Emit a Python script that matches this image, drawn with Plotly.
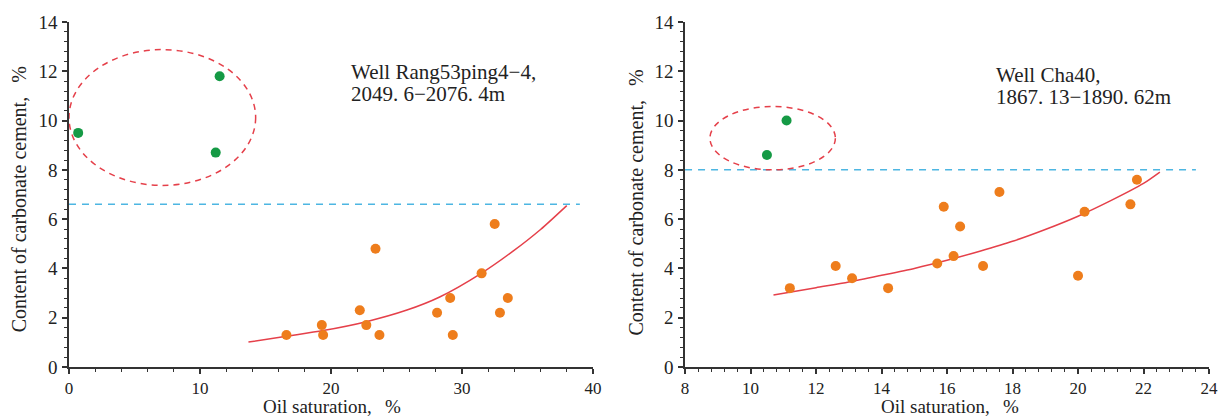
import plotly.graph_objects as go

# ---- Well Rang53ping4-4 (left panel) ----
rang_oil_sat = [16.6, 19.3, 19.4, 22.2, 22.7, 23.4, 23.7, 28.1, 29.1, 29.3, 31.5, 32.5, 32.9, 33.5]
rang_carbonate = [1.3, 1.7, 1.3, 2.3, 1.7, 4.8, 1.3, 2.2, 2.8, 1.3, 3.8, 5.8, 2.2, 2.8]
rang_outlier_sat = [0.7, 11.5, 11.2]
rang_outlier_carb = [9.5, 11.8, 8.7]
rang_trend_x = [13.7, 16.6, 19.4, 22.7, 25.8, 28.3, 31.5, 33.9, 36.0, 38.0]
rang_trend_y = [1.01, 1.25, 1.48, 1.84, 2.31, 2.84, 3.81, 4.70, 5.58, 6.55]
rang_threshold = 6.6
rang_threshold_span = [0, 39]

# ---- Well Cha40 (right panel) ----
cha_oil_sat = [11.2, 12.6, 13.1, 14.2, 15.7, 15.9, 16.2, 16.4, 17.1, 17.6, 20.0, 20.2, 21.6, 21.8]
cha_carbonate = [3.2, 4.1, 3.6, 3.2, 4.2, 6.5, 4.5, 5.7, 4.1, 7.1, 3.7, 6.3, 6.6, 7.6]
cha_outlier_sat = [10.5, 11.1]
cha_outlier_carb = [8.6, 10.0]
cha_trend_x = [10.7, 12.0, 13.0, 14.0, 15.0, 16.0, 17.0, 18.0, 19.0, 20.0, 21.0, 22.0, 22.5]
cha_trend_y = [2.92, 3.22, 3.45, 3.72, 4.0, 4.33, 4.70, 5.10, 5.58, 6.12, 6.75, 7.45, 7.91]
cha_threshold = 8.0
cha_threshold_span = [8, 23.6]

x_title = "Oil saturation,\u2002\u2009%"
y_title = "Content of carbonate cement,\u2002\u2009%"

ORANGE = "#ee7d1c"
GREEN = "#159a45"
RED = "#e5404a"
BLUE = "#4db6e2"
INK = "#222222"
SERIF = "Liberation Serif, Times New Roman, serif"

fig = go.Figure()


def add_panel(xa, ya, sat, carb, o_sat, o_carb, tx, ty, thr, span):
    fig.add_trace(go.Scatter(
        x=span, y=[thr, thr], xaxis=xa, yaxis=ya, mode="lines",
        line=dict(color=BLUE, width=1.5, dash="7px,6px"), hoverinfo="skip"))
    fig.add_trace(go.Scatter(
        x=tx, y=ty, xaxis=xa, yaxis=ya, mode="lines",
        line=dict(color=RED, width=1.5, shape="spline", smoothing=0.7)))
    fig.add_trace(go.Scatter(
        x=sat, y=carb, xaxis=xa, yaxis=ya, mode="markers",
        marker=dict(color=ORANGE, size=10, line=dict(width=0))))
    fig.add_trace(go.Scatter(
        x=o_sat, y=o_carb, xaxis=xa, yaxis=ya, mode="markers",
        marker=dict(color=GREEN, size=10, line=dict(width=0))))


add_panel("x", "y", rang_oil_sat, rang_carbonate, rang_outlier_sat, rang_outlier_carb,
          rang_trend_x, rang_trend_y, rang_threshold, rang_threshold_span)
add_panel("x2", "y2", cha_oil_sat, cha_carbonate, cha_outlier_sat, cha_outlier_carb,
          cha_trend_x, cha_trend_y, cha_threshold, cha_threshold_span)

axis_common = dict(
    showline=True, linecolor="#333333", linewidth=1.5,
    ticks="outside", ticklen=5, tickwidth=1.5, tickcolor="#333333",
    showgrid=False, zeroline=False,
    tickfont=dict(family=SERIF, size=19, color=INK),
    ticklabelstandoff=1,
    minor=dict(ticks="outside", ticklen=3, tickwidth=1.2, tickcolor="#333333", showgrid=False),
)
xtickfont = dict(family=SERIF, size=17, color=INK)

fig.update_layout(
    width=1230, height=416,
    margin=dict(l=69, r=21, t=17, b=49),
    paper_bgcolor="white", plot_bgcolor="white",
    showlegend=False,
    xaxis=dict(axis_common, domain=[0, 0.4596], range=[0, 40], tick0=0, dtick=10,
               tickfont=xtickfont, ticklabelstandoff=0,
               minor=dict(axis_common["minor"], dtick=2), anchor="y"),
    yaxis=dict(axis_common, range=[0, 14], tick0=0, dtick=2,
               minor=dict(axis_common["minor"], dtick=0.4), anchor="x"),
    xaxis2=dict(axis_common, domain=[0.5404, 1], range=[8, 24], tick0=8, dtick=2,
                tickfont=xtickfont, ticklabelstandoff=0,
                minor=dict(axis_common["minor"], dtick=0.4), anchor="y2"),
    yaxis2=dict(axis_common, range=[0, 14], tick0=0, dtick=2,
                minor=dict(axis_common["minor"], dtick=0.4), anchor="x2"),
)

# Dashed ellipses around the high-carbonate outliers
ellipse_line = dict(color=RED, width=1.5, dash="6px,5px")
fig.add_shape(type="circle", xref="x", yref="y", x0=0.0, x1=14.25, y0=7.37, y1=12.88,
              line=ellipse_line)
fig.add_shape(type="circle", xref="x2", yref="y2", x0=8.76, x1=12.59, y0=8.0, y1=10.57,
              line=ellipse_line)

title_font = dict(family=SERIF, size=19, color=INK)
label_font = dict(family=SERIF, size=21, color=INK)

annotations = [
    # axis titles
    dict(text=y_title, xref="paper", yref="paper", x=-0.0439, y=0.486, textangle=-90,
         showarrow=False, xanchor="center", yanchor="middle", font=dict(title_font, size=20)),
    dict(text=y_title, xref="paper", yref="paper", x=0.4974, y=0.477, textangle=-90,
         showarrow=False, xanchor="center", yanchor="middle", font=dict(title_font, size=20)),
    dict(text=x_title, xref="paper", yref="paper", x=0.2307, y=-0.1157, borderpad=0,
         showarrow=False, xanchor="center", yanchor="middle", font=title_font),
    dict(text=x_title, xref="paper", yref="paper", x=0.7728, y=-0.1157, borderpad=0,
         showarrow=False, xanchor="center", yanchor="middle", font=title_font),
    # well labels
    dict(text="Well Rang53ping4−4,", xref="x", yref="y", x=21.45, y=11.98, borderpad=0,
         showarrow=False, xanchor="left", yanchor="middle", font=label_font),
    dict(text="2049. 6−2076. 4m", xref="x", yref="y", x=21.45, y=11.08, borderpad=0,
         showarrow=False, xanchor="left", yanchor="middle", font=label_font),
    dict(text="Well Cha40,", xref="x2", yref="y2", x=17.45, y=11.86, borderpad=0,
         showarrow=False, xanchor="left", yanchor="middle", font=label_font),
    dict(text="1867. 13−1890. 62m", xref="x2", yref="y2", x=17.45, y=10.96, borderpad=0,
         showarrow=False, xanchor="left", yanchor="middle", font=label_font),
]
fig.update_layout(annotations=annotations)

fig.write_html("out.html")
